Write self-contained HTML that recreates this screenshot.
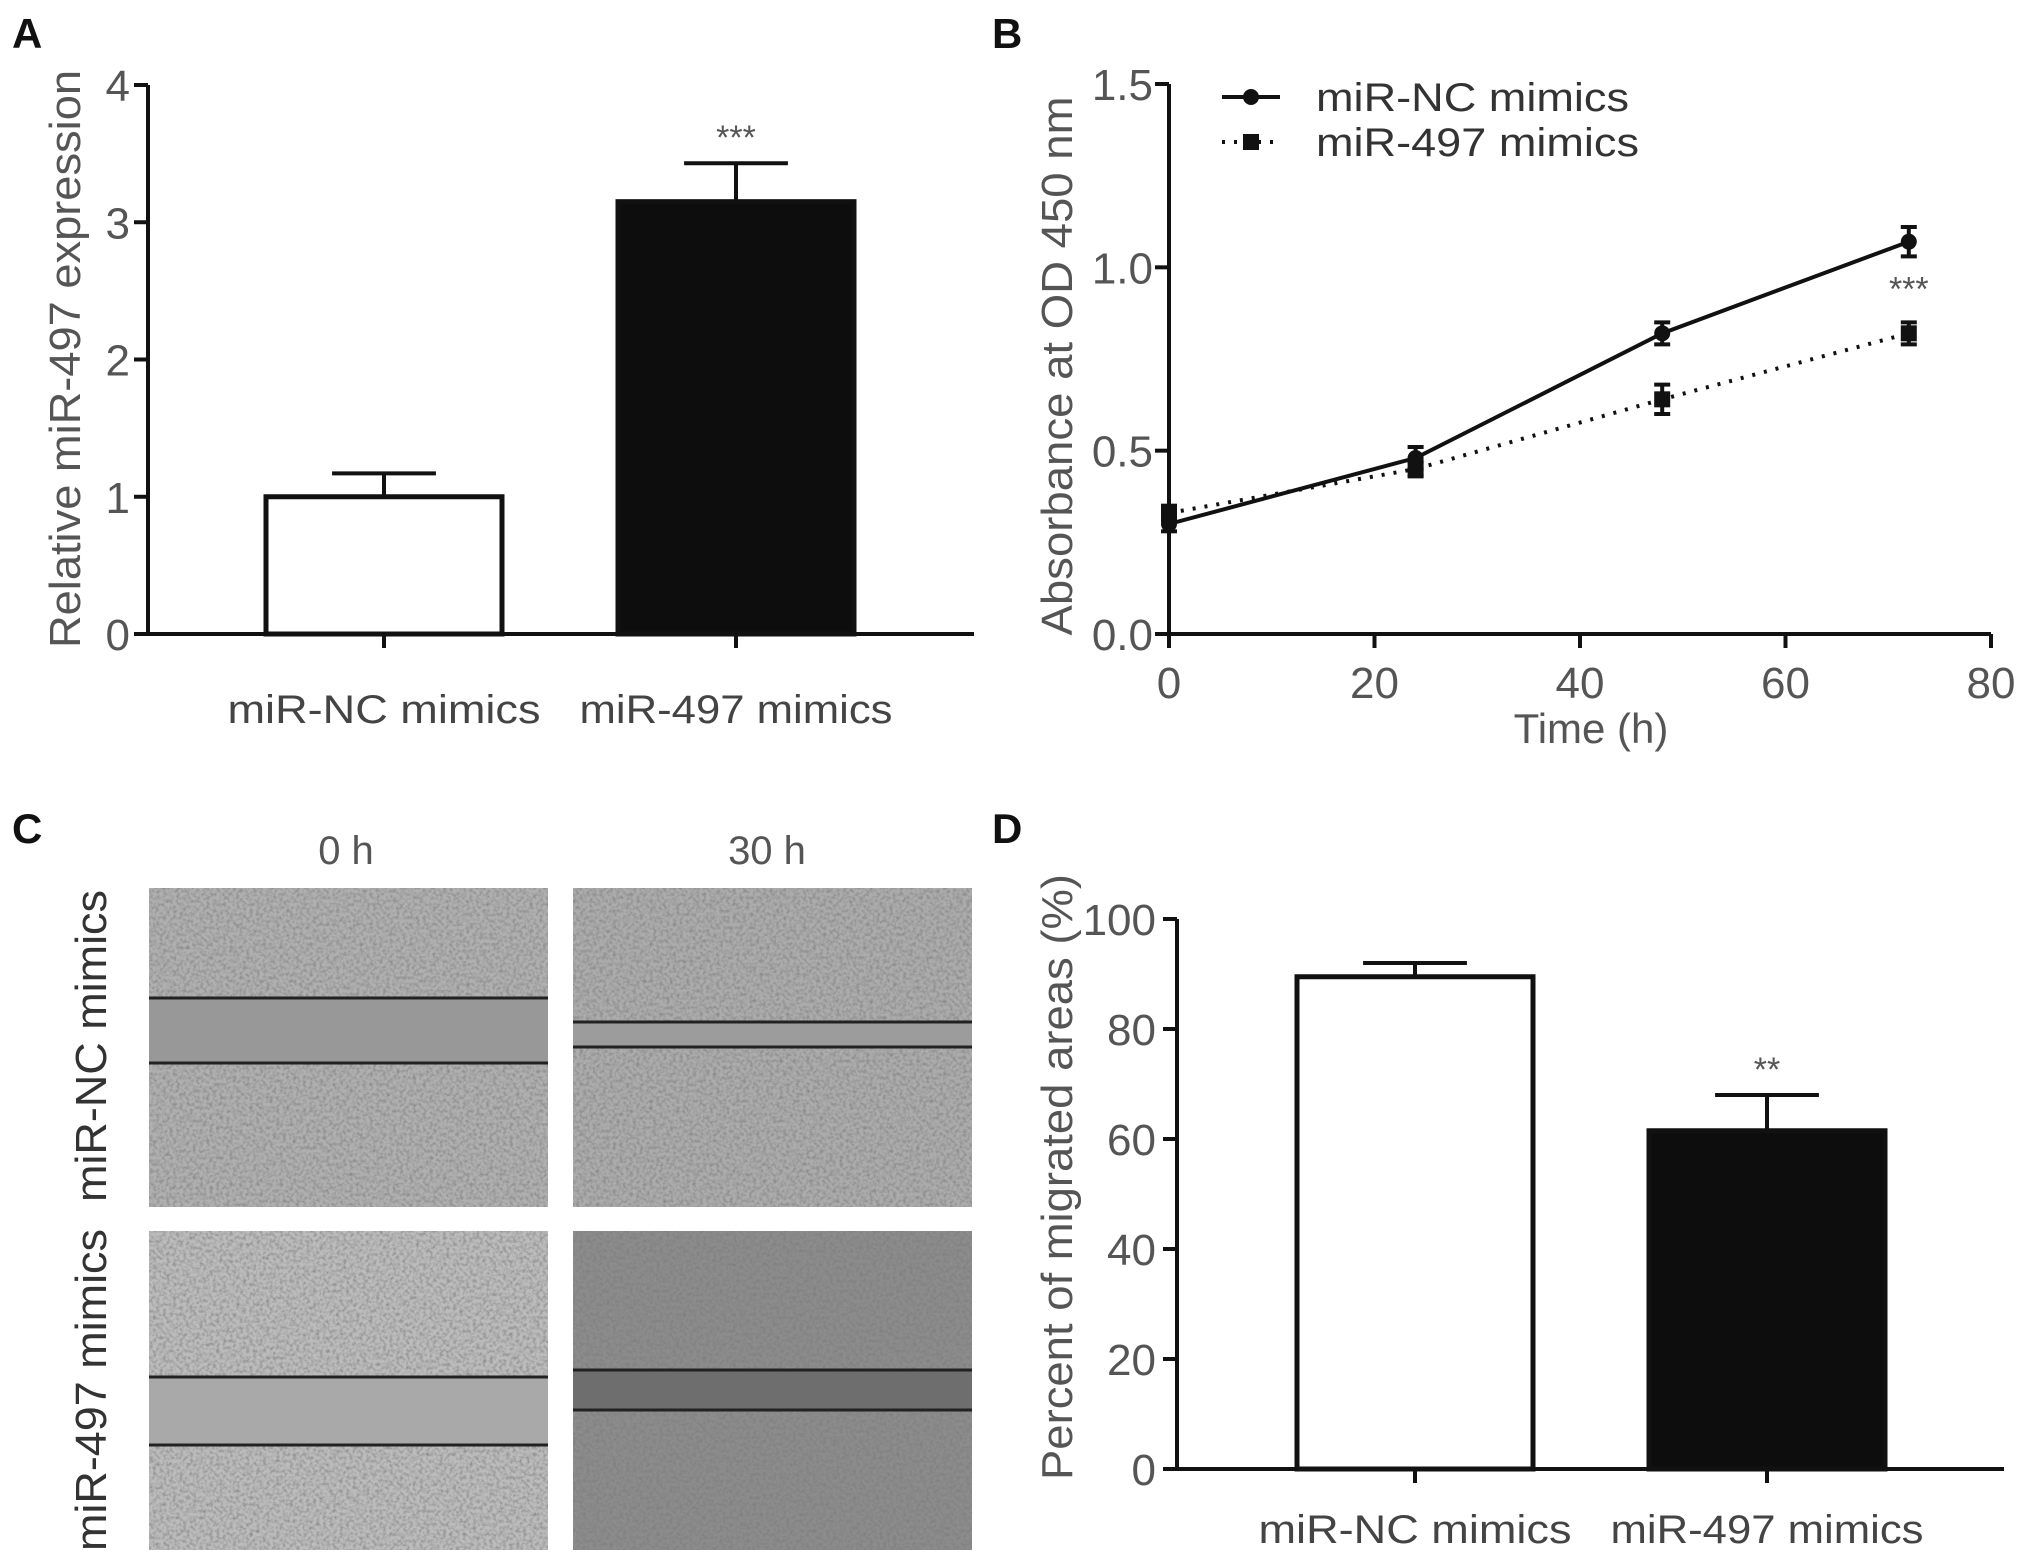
<!DOCTYPE html>
<html><head><meta charset="utf-8"><style>
html,body{margin:0;padding:0;background:#fff;}
svg{display:block;}
text{font-family:"Liberation Sans",sans-serif;}
</style></head><body>
<svg id="fig" width="2031" height="1564" viewBox="0 0 2031 1564" xmlns="http://www.w3.org/2000/svg">
<defs>
<filter id="cells" x="0" y="0" width="100%" height="100%">
<feTurbulence type="fractalNoise" baseFrequency="0.3" numOctaves="2" seed="3" result="n"/>
<feColorMatrix in="n" type="matrix" values="0 0 0 0 0.2  0 0 0 0 0.2  0 0 0 0 0.2  0 0 0 1.6 -0.6" result="a"/>
<feComposite in="a" in2="SourceGraphic" operator="atop"/>
</filter>
</defs>
<g font-weight="bold" font-size="42" fill="#111">
<text x="12" y="48">A</text>
<text x="992" y="48">B</text>
<text x="12" y="843">C</text>
<text x="992" y="843">D</text>
</g>
<g id="pa"></g>
<g id="pb"></g>
<g id="pc"></g>
<g id="pd"></g>
</svg>
<script>
const NS="http://www.w3.org/2000/svg";
// Panel A data
const aCategories=["miR-NC mimics","miR-497 mimics"];
const aValues=[1.0,3.15];
const aErrors=[0.17,0.28];
const aTicks=[0,1,2,3,4];
const aSig=["","***"];
// Panel B data
const bTimes=[0,24,48,72];
const bNC=[0.30,0.48,0.82,1.07];
const bNCErr=[0.02,0.03,0.03,0.04];
const b497=[0.33,0.45,0.64,0.82];
const b497Err=[0.02,0.02,0.04,0.03];
const bYTicks=[0.0,0.5,1.0,1.5];
const bYTickLabels=["0.0","0.5","1.0","1.5"];
const bXTicks=[0,20,40,60,80];
const bSeriesNames=["miR-NC mimics","miR-497 mimics"];
// Panel D data
const dCategories=["miR-NC mimics","miR-497 mimics"];
const dValues=[89.5,61.5];
const dErrors=[2.5,6.5];
const dTicks=[0,20,40,60,80,100];
const dSig=["","**"];

function el(tag,attrs,parent,txt){const e=document.createElementNS(NS,tag);for(const k in attrs)e.setAttribute(k,attrs[k]);if(txt!==undefined)e.textContent=txt;parent.appendChild(e);return e;}
const GRAY="#555";

function barChart(g,o){
  const y=v=>o.y0-(v-o.vmin)/(o.vmax-o.vmin)*(o.y0-o.y1);
  const ax=el('g',{},g);
  
  el('line',{x1:o.ax,y1:y(o.vmax),x2:o.ax,y2:o.y0,stroke:'#111','stroke-width':4},ax);
  o.ticks.forEach(t=>{
    el('line',{x1:o.ax-14,y1:y(t),x2:o.ax,y2:y(t),stroke:'#111','stroke-width':4},ax);
    const tx=el('text',{x:o.tlx,y:y(t)+16,'text-anchor':'end','font-size':44,fill:GRAY},ax,String(t));
    
  });
  const xa=el('line',{x1:o.ax,y1:o.y0,x2:o.xend,y2:o.y0,stroke:'#111','stroke-width':4},g);
  
  const yt=el('text',{transform:`translate(${o.ytx},${o.ytc}) rotate(-90)`,'text-anchor':'middle','font-size':44,fill:GRAY,textLength:o.ytl,lengthAdjust:'spacingAndGlyphs'},g,o.ytitle);
  
  o.cats.forEach((c,i)=>{
    const cx=o.centers[i],w=o.bw;
    const top=y(o.vals[i]),et=y(o.vals[i]+o.errs[i]);
    const eb=el('g',{},g);
    el('line',{x1:cx,y1:et,x2:cx,y2:top,stroke:'#111','stroke-width':4},eb);
    el('line',{x1:cx-w*0.22,y1:et,x2:cx+w*0.22,y2:et,stroke:'#111','stroke-width':4},eb);
    const b=el('rect',{x:cx-w/2,y:top,width:w,height:o.y0-top,fill:i===0?'#fff':'#0d0d0d',stroke:'#111','stroke-width':5},g);
    
    el('line',{x1:cx,y1:o.y0,x2:cx,y2:o.y0+14,stroke:'#111','stroke-width':4},g);
    const l=el('text',{x:cx,y:o.labY,'text-anchor':'middle','font-size':40,fill:'#444',textLength:313,lengthAdjust:'spacingAndGlyphs'},g,c);
    
    if(o.sig[i]){const s=el('text',{x:cx,y:et-o.sigOff,'text-anchor':'middle','font-size':34,fill:GRAY},g,o.sig[i]);
      }
  });
}
barChart(document.getElementById('pa'),{vmin:0,vmax:4,y0:634,y1:85,ax:148,xend:974,tlx:130,ticks:aTicks,
  ytitle:"Relative miR-497 expression",ytx:80,ytc:359,ytl:578,cats:aCategories,vals:aValues,errs:aErrors,
  centers:[384,736],bw:236,labY:723,sig:aSig,sigOff:14});
barChart(document.getElementById('pd'),{vmin:0,vmax:100,y0:1469,y1:919,ax:1177,xend:2004,tlx:1156,ticks:dTicks,
  ytitle:"Percent of migrated areas (%)",ytx:1072,ytc:1177,ytl:606,cats:dCategories,vals:dValues,errs:dErrors,
  centers:[1415,1767],bw:236,labY:1543,sig:dSig,sigOff:14});

// Panel B
(function(){
  const g=document.getElementById('pb');
  const X0=1169,X1=1991,Y0=634,Y1=84;
  const x=v=>X0+(v-0)/(80-0)*(X1-X0);
  const y=v=>Y0-(v-0)/(1.5-0)*(Y0-Y1);
  const ya=el('g',{},g);
  el('line',{x1:X0,y1:Y1,x2:X0,y2:Y0,stroke:'#111','stroke-width':4},ya);
  bYTicks.forEach((t,i)=>{el('line',{x1:X0-14,y1:y(t),x2:X0,y2:y(t),stroke:'#111','stroke-width':4},ya);
    const tx=el('text',{x:X0-16,y:y(t)+16,'text-anchor':'end','font-size':44,fill:GRAY},ya,bYTickLabels[i]);
    });
  const xa=el('g',{},g);
  el('line',{x1:X0,y1:Y0,x2:X1,y2:Y0,stroke:'#111','stroke-width':4},xa);
  bXTicks.forEach(t=>{el('line',{x1:x(t),y1:Y0,x2:x(t),y2:Y0+14,stroke:'#111','stroke-width':4},xa);
    const tx=el('text',{x:x(t),y:698,'text-anchor':'middle','font-size':44,fill:GRAY},xa,String(t));
    });
  const xt=el('text',{x:1591,y:743,'text-anchor':'middle','font-size':42,fill:GRAY},g,"Time (h)");
  
  const yt=el('text',{transform:'translate(1072,366) rotate(-90)','text-anchor':'middle','font-size':44,fill:GRAY,textLength:539,lengthAdjust:'spacingAndGlyphs'},g,"Absorbance at OD 450 nm");
  
  function series(vals,errs,dash,marker,name){
    const s=el('g',{},g);
    const pts=bTimes.map((t,i)=>x(t)+','+y(vals[i])).join(' ');
    const a={points:pts,fill:'none',stroke:'#111','stroke-width':4};if(dash)a['stroke-dasharray']='3 9';
    el('polyline',a,s);
    bTimes.forEach((t,i)=>{const cx=x(t),cy=y(vals[i]),e1=y(vals[i]+errs[i]),e2=y(vals[i]-errs[i]);
      el('line',{x1:cx,y1:e1,x2:cx,y2:e2,stroke:'#111','stroke-width':4},s);
      el('line',{x1:cx-8,y1:e1,x2:cx+8,y2:e1,stroke:'#111','stroke-width':4},s);
      el('line',{x1:cx-8,y1:e2,x2:cx+8,y2:e2,stroke:'#111','stroke-width':4},s);
      const m=marker==='c'?el('circle',{cx:cx,cy:cy,r:8,fill:'#111'},s):el('rect',{x:cx-8,y:cy-8,width:16,height:16,fill:'#111'},s);
      });
  }
  series(b497,b497Err,true,'s','series-mir-497');
  series(bNC,bNCErr,false,'c','series-mir-nc');
  const sg=el('text',{x:x(bTimes[3]),y:y(b497[3]+b497Err[3])-22,'text-anchor':'middle','font-size':34,fill:GRAY},g,"***");
  
  const lg=el('g',{},g);
  const e1=el('g',{},lg);
  el('line',{x1:1222,y1:97,x2:1280,y2:97,stroke:'#111','stroke-width':4},e1);
  el('circle',{cx:1251,cy:97,r:8,fill:'#111'},e1);
  el('text',{x:1316,y:111,'font-size':40,fill:'#333',textLength:313,lengthAdjust:'spacingAndGlyphs'},e1,bSeriesNames[0]);
  const e2=el('g',{},lg);
  el('line',{x1:1222,y1:142,x2:1280,y2:142,stroke:'#111','stroke-width':4,'stroke-dasharray':'3 9'},e2);
  el('rect',{x:1243,y:134,width:16,height:16,fill:'#111'},e2);
  el('text',{x:1316,y:156,'font-size':40,fill:'#333',textLength:323,lengthAdjust:'spacingAndGlyphs'},e2,bSeriesNames[1]);
})();

// Panel C images
(function(){
  const g=document.getElementById('pc');
  const cols=[[149,548],[573,972]],rows=[[888,1207],[1231,1550]];
  const bgs=[["#b0b0b0","#acacac"],["#bcbcbc","#8c8c8c"]];
  const gaps=[["#989898","#9c9c9c"],["#a9a9a9","#6e6e6e"]];
  const lines=[[[998,1063],[1022,1047]],[[1377,1445],[1370,1410]]];
  const names=[["nc-0h","nc-30h"],["497-0h","497-30h"]];
  for(let r=0;r<2;r++)for(let c=0;c<2;c++){
    const im=el('g',{},g);
    const [x0,x1]=cols[c],[y0,y1]=rows[r],[l1,l2]=lines[r][c];
    el('rect',{x:x0,y:y0,width:x1-x0,height:y1-y0,fill:bgs[r][c],filter:'url(#cells)'},im);
    el('rect',{x:x0,y:l1,width:x1-x0,height:l2-l1,fill:gaps[r][c]},im);
    el('line',{x1:x0,y1:l1,x2:x1,y2:l1,stroke:'#222','stroke-width':3},im);
    el('line',{x1:x0,y1:l2,x2:x1,y2:l2,stroke:'#222','stroke-width':3},im);
  }
  const t1=el('text',{x:346,y:864,'text-anchor':'middle','font-size':40,fill:GRAY},g,"0 h");
  
  const t2=el('text',{x:767,y:864,'text-anchor':'middle','font-size':40,fill:GRAY},g,"30 h");
  
  const r1=el('text',{transform:'translate(106,1046) rotate(-90)','text-anchor':'middle','font-size':44,fill:'#333',textLength:312,lengthAdjust:'spacingAndGlyphs'},g,"miR-NC mimics");
  
  const r2=el('text',{transform:'translate(106,1390) rotate(-90)','text-anchor':'middle','font-size':44,fill:'#333',textLength:322,lengthAdjust:'spacingAndGlyphs'},g,"miR-497 mimics");
  
})();
</script>
</body></html>
